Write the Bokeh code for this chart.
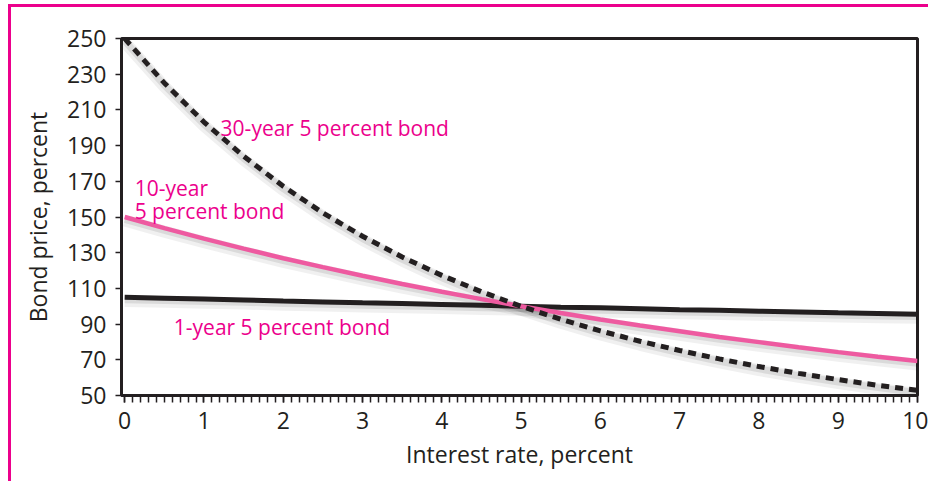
from bokeh.plotting import figure
from bokeh.embed import file_html
from bokeh.resources import INLINE
from bokeh.models import FixedTicker, Range1d, Label

# Interest rate, percent
rates = [0, 0.5, 1, 1.5, 2, 2.5, 3, 3.5, 4, 4.5, 5, 5.5, 6, 6.5, 7, 7.5, 8, 8.5, 9, 9.5, 10]
# Bond prices, percent of face value
price_1yr = [105.0, 104.5, 104.0, 103.5, 102.9, 102.4, 101.9, 101.5, 101.0, 100.5, 100.0,
             99.5, 99.1, 98.6, 98.1, 97.7, 97.2, 96.8, 96.3, 95.9, 95.5]
price_10yr = [150.0, 143.8, 137.9, 132.3, 126.9, 121.9, 117.1, 112.5, 108.1, 104.0, 100.0,
              96.2, 92.6, 89.2, 86.0, 82.8, 79.9, 77.0, 74.3, 71.7, 69.3]
price_30yr = [250.0, 225.1, 203.2, 184.1, 167.2, 152.3, 139.2, 127.6, 117.3, 108.1, 100.0,
              92.7, 86.2, 80.4, 75.2, 70.5, 66.2, 62.4, 58.9, 55.7, 52.9]

x_ticks = [0, 1, 2, 3, 4, 5, 6, 7, 8, 9, 10]
x_minor = [i / 10 for i in range(101)]
y_ticks = [50, 70, 90, 110, 130, 150, 170, 190, 210, 230, 250]

INK = "#231f20"
MAGENTA = "#ec008c"
PINK = "#ee5aa0"
FONT = "Open Sans"

p = figure(width=920, height=477, output_backend="svg", toolbar_location=None,
           x_range=Range1d(-0.04, 10.0), y_range=Range1d(50, 250),
           min_border_left=110, min_border_right=14, min_border_top=31, min_border_bottom=89)
p.styles = {"margin-left": "8px", "margin-top": "4px",
            "border-left": "3px solid " + MAGENTA, "border-top": "3px solid " + MAGENTA}
p.background_fill_color = "white"
p.border_fill_color = "white"
p.outline_line_color = INK
p.outline_line_width = 3
p.xgrid.visible = False
p.ygrid.visible = False

# soft drop shadows under the curves
for ys in (price_30yr, price_10yr, price_1yr):
    p.line(rates, [v - 2.0 for v in ys], line_color="#000000", line_alpha=0.06, line_width=12)
    p.line(rates, [v - 1.3 for v in ys], line_color="#000000", line_alpha=0.09, line_width=7)

p.line(rates, price_1yr, line_color=INK, line_width=5)
p.line(rates, price_10yr, line_color=PINK, line_width=4.5)
p.line(rates, price_30yr, line_color=INK, line_width=5, line_dash="8 6")

p.xaxis.ticker = FixedTicker(ticks=x_ticks, minor_ticks=x_minor)
p.yaxis.ticker = FixedTicker(ticks=y_ticks)
for ax in (p.xaxis[0], p.yaxis[0]):
    ax.axis_line_color = INK
    ax.axis_line_width = 3
    ax.major_tick_line_color = INK
    ax.major_tick_line_width = 1.5
    ax.major_tick_in = 0
    ax.major_label_text_font = FONT
    ax.major_label_text_font_size = "23px"
    ax.major_label_text_color = INK
    ax.axis_label_text_font = FONT
    ax.axis_label_text_font_size = "23px"
    ax.axis_label_text_font_style = "normal"
    ax.axis_label_text_color = INK
p.xaxis.major_tick_out = 7
p.xaxis.minor_tick_out = 7
p.xaxis.minor_tick_in = 0
p.xaxis.minor_tick_line_color = INK
p.xaxis.minor_tick_line_width = 1.5
p.yaxis.major_tick_out = 6
p.yaxis.minor_tick_line_color = None
p.xaxis.axis_label = "Interest rate, percent"
p.yaxis.axis_label = "Bond price, percent"
p.xaxis.major_label_standoff = 9
p.yaxis.major_label_standoff = 9
p.xaxis.axis_label_standoff = 6
p.yaxis.axis_label_standoff = 10

labels = [
    ("30-year 5 percent bond", 1.21, 200.1),
    ("10-year", 0.126, 166.5),
    ("5 percent bond", 0.126, 153.6),
    ("1-year 5 percent bond", 0.62, 88.1),
]
for txt, lx, ly in labels:
    p.add_layout(Label(x=lx, y=ly, text=txt, text_font=FONT, text_font_size="21px",
                       text_color=MAGENTA, text_baseline="alphabetic", text_align="left"))

html = file_html(p, INLINE)
html = html.replace("<body>", '<body style="background:#e6e7e8">', 1)
open("out.html", "w").write(html)
